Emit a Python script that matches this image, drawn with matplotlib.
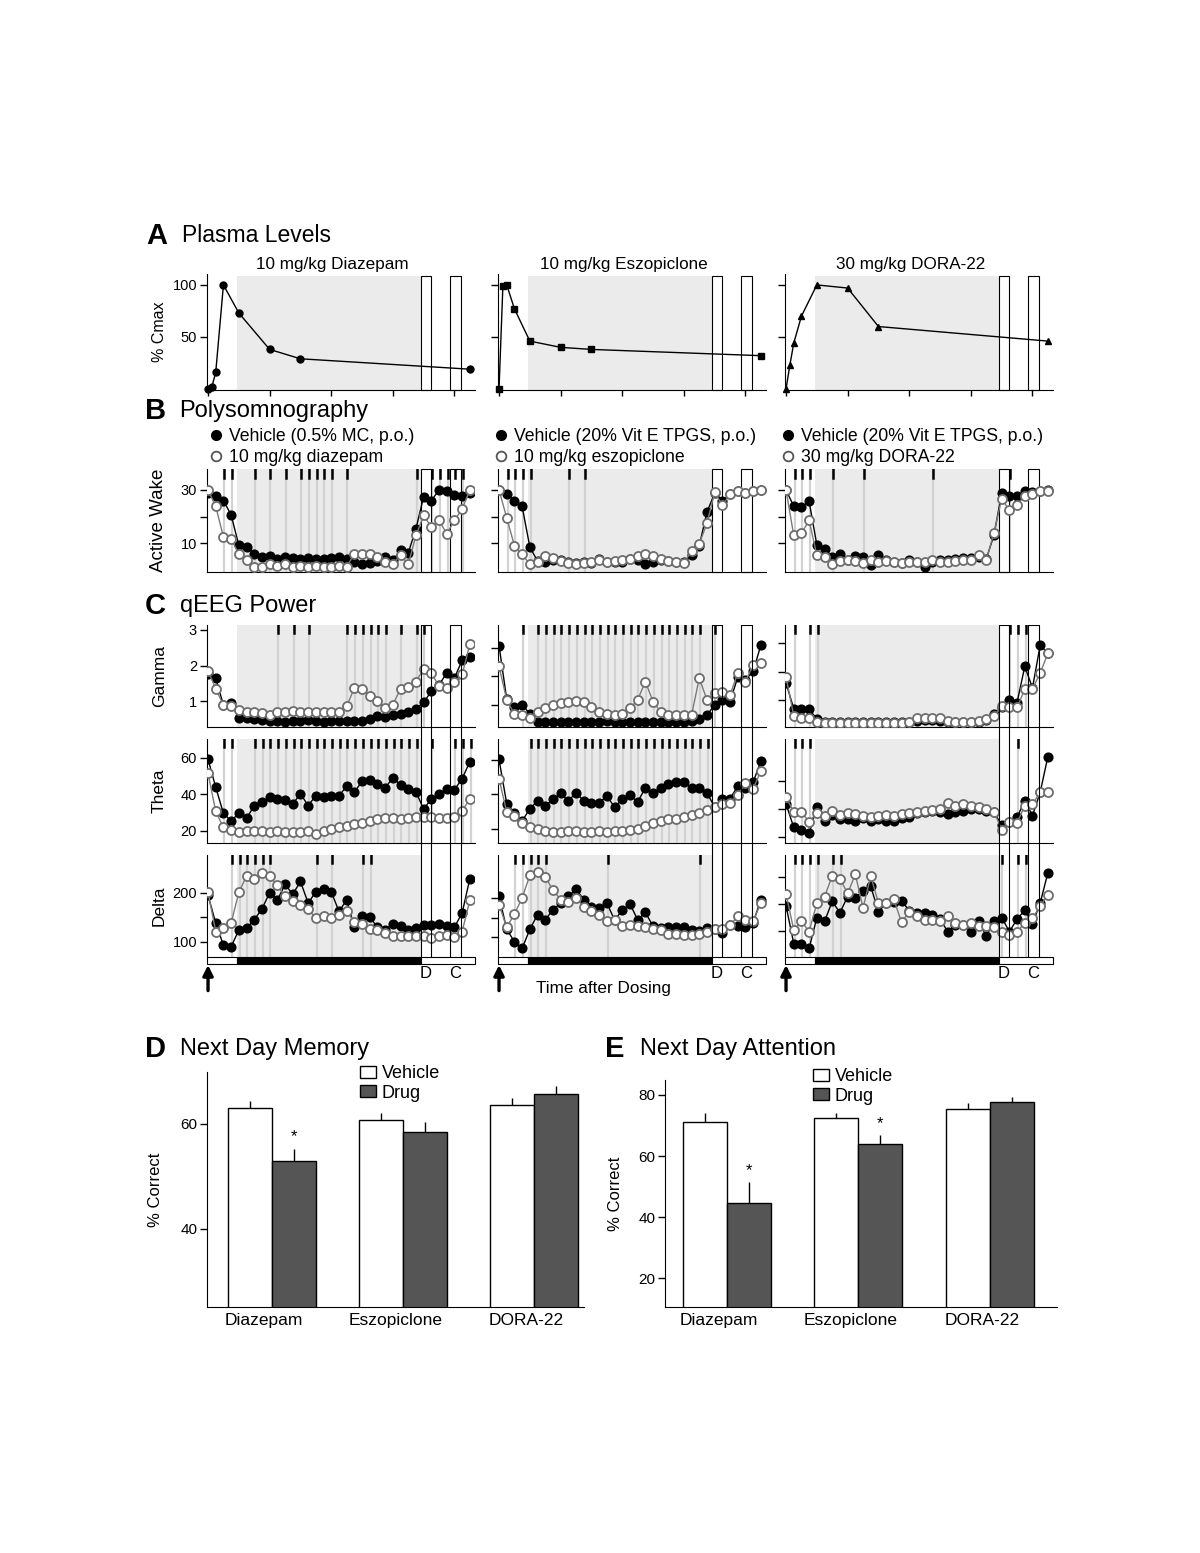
import matplotlib
matplotlib.use('Agg')
import matplotlib.pyplot as plt
from matplotlib.patches import Rectangle, Patch
from matplotlib.lines import Line2D

plt.rcParams['font.family'] = ['Liberation Sans', 'DejaVu Sans']

W, H = 1200, 1553

# ---------------- data ----------------
drugs = ['Diazepam', 'Eszopiclone', 'DORA-22']
pk_titles = ['10 mg/kg Diazepam', '10 mg/kg Eszopiclone', '30 mg/kg DORA-22']
veh_labels = ['Vehicle (0.5% MC, p.o.)', 'Vehicle (20% Vit E TPGS, p.o.)', 'Vehicle (20% Vit E TPGS, p.o.)']
drug_labels = ['10 mg/kg diazepam', '10 mg/kg eszopiclone', '30 mg/kg DORA-22']

# plasma levels (% Cmax)
pk_hours = [0, 0.25, 0.5, 1, 2, 4, 6, 17]
diaz_pk = [0, 2, 16, 100, 73, 38, 29, 19]
eszo_pk = [0, 99, 100, 77, 46, 40, 38, 32]
dora_pk = [0, 23, 44, 70, 100, 97, 60, 46]

# 30 min bins after dosing
hours = [i * 0.5 for i in range(35)]
dark = (1.85, 13.8)
d_box = (13.8, 14.5)
c_box = (15.7, 16.4)

# active wake
aw_veh_diaz = [29, 27.9, 26, 20.6, 9.1, 8.5, 6, 4.8, 5, 4.1, 4.8, 4.5, 3.9, 4.4, 3.9, 4.1, 4.5, 4.8,
               4.1, 2.9, 2.3, 2.5, 3.1, 4.8, 3.5, 7.3, 6.3, 15.4, 27.5, 26, 30, 29.8, 28.1, 27.9, 29]
aw_diaz = [30, 23.8, 12.3, 11.6, 5.8, 3.5, 1, 1, 2, 1.5, 2, 1, 1.5, 1, 1.5, 1, 1, 1.5,
           1, 6, 5.8, 5.8, 4.8, 2.9, 2.3, 5.4, 2, 12.9, 20.4, 16, 18.5, 13.5, 18.5, 22.9, 30]
aw_veh_eszo = [30, 28.3, 26, 23.8, 8.5, 3.2, 3, 3.5, 3.8, 2.8, 2.5, 3, 2.6, 4, 3, 2.8, 3, 4,
               3.5, 2, 3, 3.5, 3.2, 3, 2.8, 5.5, 9, 21.7, 28.8, 26, 28.3, 29.5, 29, 29.7, 30]
aw_eszo = [30, 19.5, 9, 5.7, 2, 2.8, 5, 4.4, 3.2, 2.6, 2, 2.6, 2.8, 3.5, 3, 3.2, 3.8, 4,
           5, 5.7, 5, 4, 3.2, 2.8, 2.6, 6.9, 9.8, 17.4, 29.1, 24.2, 28.3, 29.5, 29, 29.7, 30]
aw_veh_dora = [30, 23.9, 23.4, 25.7, 9.3, 7.6, 4.8, 6, 3.5, 5.1, 4.8, 1.7, 5.4, 3.5, 3, 2.5, 3.5, 2.8,
               1, 3, 3.5, 3.8, 4, 4.2, 4.5, 4.8, 4, 13, 28.8, 27.6, 27.6, 29.5, 29.3, 29.6, 30]
aw_dora = [30, 12.9, 13.7, 18.5, 5.4, 4.8, 2, 3.2, 3.5, 3.2, 2.6, 3.5, 3, 3.2, 3, 2.5, 2.8, 3,
           2.8, 3.5, 3, 2.8, 3.2, 3.5, 3.8, 5.4, 3.5, 13.9, 26.7, 22.4, 24.3, 27.9, 28.3, 29.5, 29.8]

# gamma power
ga_veh_diaz = [1.75, 1.65, 0.88, 0.95, 0.53, 0.53, 0.5, 0.48, 0.45, 0.45, 0.42, 0.45, 0.45, 0.48, 0.45,
               0.42, 0.45, 0.45, 0.45, 0.45, 0.45, 0.5, 0.58, 0.56, 0.6, 0.63, 0.7, 0.77, 0.97, 1.27,
               1.45, 1.8, 1.65, 2.15, 2.25]
ga_diaz = [1.85, 1.35, 0.88, 0.85, 0.75, 0.7, 0.68, 0.65, 0.62, 0.68, 0.7, 0.72, 0.7, 0.7, 0.68,
           0.68, 0.68, 0.7, 0.85, 1.37, 1.33, 1.15, 1.0, 0.8, 0.9, 1.35, 1.4, 1.55, 1.9, 1.78,
           1.42, 1.37, 1.53, 1.75, 2.6]
ga_veh_eszo = [3.08, 1.2, 0.92, 1.0, 0.7, 0.41, 0.42, 0.42, 0.4, 0.42, 0.4, 0.4, 0.42, 0.42, 0.43,
               0.42, 0.4, 0.4, 0.42, 0.4, 0.42, 0.42, 0.4, 0.42, 0.42, 0.45, 0.5, 0.65, 1.0, 1.18,
               1.12, 1.98, 1.88, 2.18, 3.1]
ga_eszo = [2.35, 1.18, 0.68, 0.65, 0.56, 0.76, 0.88, 1.0, 1.06, 1.12, 1.14, 1.12, 0.92, 0.76, 0.68,
           0.65, 0.68, 0.88, 1.18, 1.82, 1.12, 0.76, 0.65, 0.65, 0.65, 0.65, 1.94, 1.18, 1.41, 1.47,
           1.35, 2.12, 1.82, 2.41, 2.47]
ga_veh_dora = [1.6, 0.71, 0.69, 0.69, 0.35, 0.25, 0.23, 0.23, 0.23, 0.23, 0.23, 0.23, 0.25, 0.23, 0.23,
               0.23, 0.25, 0.28, 0.3, 0.3, 0.28, 0.25, 0.25, 0.23, 0.25, 0.25, 0.3, 0.52, 0.78, 1.0,
               0.92, 2.18, 1.43, 2.92, 2.63]
ga_dora = [1.81, 0.46, 0.37, 0.4, 0.23, 0.2, 0.2, 0.2, 0.2, 0.2, 0.2, 0.2, 0.2, 0.2, 0.22,
           0.22, 0.25, 0.38, 0.4, 0.4, 0.38, 0.28, 0.25, 0.25, 0.25, 0.28, 0.35, 0.46, 0.8, 0.78,
           0.75, 1.38, 1.4, 1.95, 2.63]

# theta power
th_veh_diaz = [59.3, 44, 29.6, 25.6, 29.6, 26.9, 33.9, 35.7, 38.5, 37.6, 36.7, 34.8, 40.4, 33.9, 39.4,
               38.5, 39.4, 39.4, 44.4, 41.3, 47.2, 48.1, 45.9, 43.7, 49.1, 45, 43.1, 41.3, 32, 37.6,
               40.4, 43.1, 42.6, 48.7, 58]
th_diaz = [51.5, 30.7, 21.9, 20.4, 19.5, 19.8, 19.8, 19.8, 19.5, 19.8, 19.5, 19.2, 19.5, 19.8, 18.5,
           19.8, 21, 22.2, 22.8, 23.7, 24.6, 25.6, 26.5, 26.9, 26.9, 26.7, 27, 27.4, 27.4, 27.4,
           26.9, 26.9, 27.8, 31.1, 37.6]
th_veh_eszo = [60.2, 34.6, 29.4, 24.6, 31.7, 36.2, 33.3, 37.1, 40.6, 36.2, 41, 36.2, 34.8, 35.2, 39,
               32.7, 37.1, 39.6, 35.6, 43.8, 41, 43.8, 46.2, 47.1, 47.1, 43.8, 43.8, 40.6, 32.9, 37.5,
               37.5, 44.8, 43.8, 47.1, 59.2]
th_eszo = [49, 29.8, 27.5, 23.3, 21.3, 19.8, 18.8, 18.5, 18.5, 18.8, 18.8, 18.5, 18.5, 18.8, 18.5,
           18.8, 19, 19.2, 20.2, 21.7, 23.3, 24.6, 25.6, 26, 27.1, 27.9, 29.4, 31, 32.7, 34.2,
           35.2, 39.4, 46.7, 43.3, 53.5]
th_veh_dora = [43.6, 26.9, 25, 22.6, 41.2, 31.7, 35.7, 32.9, 32.9, 31.7, 33.3, 31.7, 32.5, 31.5, 31.7,
               33.3, 34, 37, 38, 38.8, 37.5, 36.4, 38, 38.8, 40, 40, 38.8, 37.6, 28.6, 30.5,
               34, 46, 35.2, 51.9, 77.4]
th_dora = [48.3, 38.1, 37.6, 31, 36.9, 35.2, 38.8, 36, 37, 36.5, 35, 34, 35, 36, 35,
           36.5, 37, 37.5, 38.8, 39, 40, 44.3, 42.4, 43.6, 42.4, 41.2, 40, 38.1, 25.2, 31,
           30, 42.4, 43.6, 51.9, 51.9]

# delta power
de_veh_diaz = [195, 138, 93, 90, 124, 128, 145, 167, 200, 185, 217, 197, 223, 179, 202, 207, 202, 162,
               185, 130, 153, 150, 130, 124, 137, 132, 124, 128, 134, 134, 137, 132, 130, 159, 229]
de_diaz = [201, 121, 128, 138, 201, 234, 228, 241, 234, 215, 193, 183, 176, 167, 148, 152, 148, 155,
           162, 141, 137, 126, 124, 117, 112, 112, 112, 112, 112, 107, 112, 114, 109, 121, 185]
de_veh_eszo = [204, 120, 88, 71, 120, 157, 144, 170, 187, 204, 223, 196, 178, 174, 187, 144, 168, 185,
               144, 163, 128, 122, 125, 125, 125, 118, 116, 124, 120, 110, 131, 128, 125, 137, 196]
de_eszo = [183, 125, 159, 200, 258, 266, 254, 220, 196, 191, 200, 178, 166, 157, 140, 144, 128, 131,
           128, 127, 120, 118, 108, 108, 105, 105, 108, 114, 120, 120, 131, 153, 144, 142, 187]
de_veh_dora = [147, 77, 77, 68, 125, 118, 155, 134, 164, 161, 175, 183, 136, 152, 153, 156, 138, 134,
               133, 130, 122, 99, 111, 111, 99, 118, 91, 118, 125, 99, 122, 139, 113, 152, 208]
de_dora = [169, 102, 118, 99, 152, 164, 202, 197, 170, 205, 143, 202, 152, 152, 159, 116, 136, 128,
           121, 121, 118, 128, 115, 111, 115, 110, 110, 108, 99, 93, 99, 115, 124, 146, 167]

# significant bins (grey lines)
sig_aw = [[2, 3, 6, 8, 10, 12, 13, 14, 15, 16, 18, 27, 29, 30, 31, 32, 33], [1, 2, 3, 4, 9, 11],
          [1, 2, 3, 6, 10, 19, 29]]
sig_ga = [[9, 11, 13, 18, 19, 20, 21, 22, 23, 25, 27, 28],
          [3, 5, 6, 7, 8, 9, 10, 11, 12, 13, 14, 15, 16, 17, 18, 19, 20, 21, 22, 23, 24, 25, 26, 28],
          [1, 3, 4, 29, 30, 31]]
sig_th = [[2, 3, 6, 7, 8, 9, 10, 11, 12, 13, 14, 15, 16, 17, 18, 19, 20, 21, 22, 23, 24, 25, 26, 27,
           29, 32, 33, 34],
          [4, 5, 6, 7, 8, 9, 10, 11, 12, 13, 14, 15, 16, 17, 18, 19, 20, 21, 22, 23, 24, 25, 26, 27],
          [1, 2, 3, 30]]
sig_de = [[3, 4, 5, 6, 7, 8, 14, 16, 20, 21], [2, 3, 4, 5, 6, 14, 26], [1, 2, 3, 4, 6, 7, 28, 30, 31]]

# next day tests
mem_vehicle = [63.1, 60.8, 63.6]
mem_vehicle_err = [1.3, 1.2, 1.3]
mem_drug = [53.0, 58.4, 65.8]
mem_drug_err = [2.3, 1.9, 1.5]
att_vehicle = [71.0, 72.4, 75.4]
att_vehicle_err = [3.0, 1.6, 1.9]
att_drug = [44.7, 63.8, 77.6]
att_drug_err = [6.9, 3.1, 1.6]
mem_sig = [True, False, False]
att_sig = [True, True, False]

# ---------------- layout helpers ----------------
fig = plt.figure(figsize=(12, 15.53), dpi=100)


def box(x0, y0, x1, y1):
    return [x0 / W, 1 - y1 / H, (x1 - x0) / W, (y1 - y0) / H]


XLIM = (-0.08, 17.3)
col_left = [206.8, 497.8, 784.8]
col_w = 267.7
SHADE = '#ebebeb'
SIGC = '#d2d2d2'
LABX = -0.15


def clean(ax):
    for s in ('top', 'right'):
        ax.spines[s].set_visible(False)
    ax.tick_params(axis='y', direction='out', length=5, width=1, labelsize=10.5, pad=2)
    ax.set_xlim(XLIM)


def add_boxes(ax, ylim):
    for b in (d_box, c_box):
        ax.add_patch(Rectangle((b[0], ylim[0]), b[1] - b[0], ylim[1] - ylim[0], facecolor='white',
                               edgecolor='black', lw=0.8, zorder=1.5, clip_on=False))


def add_sig(ax, idx, ylim, tick_frac):
    for i in idx:
        x = hours[i] + 0.05
        ax.plot([x, x], ylim, color=SIGC, lw=1.6, zorder=1)
        top = ylim[1]
        ax.plot([x, x], [top, top - tick_frac * (ylim[1] - ylim[0])], color='black', lw=1.8, zorder=2)


def series(ax, veh, drug):
    ax.plot(hours, veh, '-', color='black', lw=1, marker='o', ms=6.3, mfc='black', mec='black', zorder=4)
    ax.plot(hours, drug, '-', color='#7a7a7a', lw=1, marker='o', ms=6.5, mfc='white', mec='#6e6e6e',
            mew=1.3, zorder=5)


# ---------------- A: plasma ----------------
pk_data = [diaz_pk, eszo_pk, dora_pk]
pk_marker = ['o', 's', '^']
for c in range(3):
    ax = fig.add_axes(box(col_left[c], 274, col_left[c] + col_w, 390))
    clean(ax)
    ylim = (-1, 110.5)
    ax.set_ylim(ylim)
    ax.axvspan(dark[0], dark[1], ymin=0, ymax=0.985, color=SHADE, lw=0, zorder=0)
    add_boxes(ax, (ylim[0], 108.5))
    ax.plot(pk_hours, pk_data[c], '-', color='black', lw=1, marker=pk_marker[c], ms=5, zorder=4,
            clip_on=False)
    ax.set_yticks([50, 100])
    ax.set_yticklabels(['50', '100'] if c == 0 else ['', ''])
    ax.set_xticks([0, 4, 8, 12, 16])
    ax.set_xticklabels([])
    ax.tick_params(axis='x', direction='out', length=4, width=1)
    if c == 0:
        ax.set_ylabel('% Cmax', fontsize=11.5)
        ax.yaxis.set_label_coords(LABX, 0.5)
    fig.text((col_left[c] + col_w / 2 - 8) / W, 1 - 264 / H, pk_titles[c], fontsize=12.3,
             ha='center', va='center')

# ---------------- B: active wake ----------------
aw_veh = [aw_veh_diaz, aw_veh_eszo, aw_veh_dora]
aw_drug = [aw_diaz, aw_eszo, aw_dora]
leg_x = [212, 497, 784]
for c in range(3):
    ax = fig.add_axes(box(col_left[c], 469, col_left[c] + col_w, 572))
    clean(ax)
    ylim = (-0.9, 37.9)
    ax.set_ylim(ylim)
    ax.axvspan(dark[0], dark[1], color=SHADE, lw=0, zorder=0)
    add_sig(ax, sig_aw[c], ylim, 0.09)
    add_boxes(ax, ylim)
    series(ax, aw_veh[c], aw_drug[c])
    ax.set_yticks([10, 20, 30])
    ax.set_yticklabels(['10', '', '30'] if c == 0 else ['', '', ''])
    ax.set_xticks([])
    if c == 0:
        ax.set_ylabel('Active Wake', fontsize=13.5)
        ax.yaxis.set_label_coords(LABX, 0.5)
    handles = [Line2D([], [], ls='none', marker='o', ms=7, mfc='black', mec='black'),
               Line2D([], [], ls='none', marker='o', ms=7, mfc='white', mec='#555555', mew=1.3)]
    ax.legend(handles, [veh_labels[c], drug_labels[c]], loc='upper left',
              bbox_to_anchor=(leg_x[c] / W, 1 - 428 / H), bbox_transform=fig.transFigure,
              frameon=False, fontsize=12.7, handlelength=0.5, handletextpad=0.45, borderpad=0,
              borderaxespad=0, labelspacing=0.22)

# ---------------- C: qEEG ----------------
rows = [
    ('Gamma', 625, 727, [ga_veh_diaz, ga_veh_eszo, ga_veh_dora], [ga_diaz, ga_eszo, ga_dora], sig_ga,
     [(0.27, 3.14), (0.23, 3.8), (0.07, 3.62)], [1, 2, 3], ['1', '2', '3']),
    ('Theta', 739, 843, [th_veh_diaz, th_veh_eszo, th_veh_dora], [th_diaz, th_eszo, th_dora], sig_th,
     [(13.4, 70.4), (11.9, 72), (15.7, 90)], [20, 40, 60], ['20', '40', '60']),
    ('Delta', 855, 957, [de_veh_diaz, de_veh_eszo, de_veh_dora], [de_diaz, de_eszo, de_dora], sig_de,
     [(69, 277), (49, 310), (52, 241)], [100, 150, 200], ['100', '', '200']),
]
for name, y0, y1, vehs, drgs, sigs, ylims, ticks, labels in rows:
    for c in range(3):
        ax = fig.add_axes(box(col_left[c], y0, col_left[c] + col_w, y1))
        clean(ax)
        ylim = ylims[c]
        ax.set_ylim(ylim)
        ax.axvspan(dark[0], dark[1], color=SHADE, lw=0, zorder=0)
        add_sig(ax, sigs[c], ylim, 0.08)
        series(ax, vehs[c], drgs[c])
        ax.set_yticks(ticks)
        ax.set_yticklabels(labels if c == 0 else [''] * len(ticks))
        ax.set_xticks([])
        if name == 'Delta':
            ax.spines['bottom'].set_visible(False)
        if c == 0:
            ax.set_ylabel(name, fontsize=12.5)
            ax.yaxis.set_label_coords(LABX, 0.5)

for c in range(3):
    # D / C boxes crossing the three qEEG panels
    ov = fig.add_axes(box(col_left[c], 625, col_left[c] + col_w, 964))
    ov.set_xlim(XLIM)
    ov.set_ylim(0, 1)
    ov.axis('off')
    ov.patch.set_alpha(0)
    for b in (d_box, c_box):
        ov.plot([b[0], b[0], b[1], b[1]], [0, 1, 1, 0], color='black', lw=0.8, zorder=6)

    # light / dark bar
    bar = fig.add_axes(box(col_left[c], 957, col_left[c] + col_w, 964))
    bar.set_xlim(XLIM)
    bar.set_ylim(0, 1)
    bar.axis('off')
    for xa, xb, fc in ((XLIM[0], dark[0], 'white'), (dark[0], dark[1], 'black'), (dark[1], XLIM[1], 'white')):
        bar.add_patch(Rectangle((xa, 0), xb - xa, 1, facecolor=fc, edgecolor='black', lw=0.8,
                                clip_on=False))
    bar.annotate('', xy=(0, -0.15), xytext=(0, -3.8), xycoords=('data', 'axes fraction'),
                 arrowprops=dict(arrowstyle='-|>,head_width=0.3,head_length=0.6', color='black',
                                 lw=2.4, shrinkA=0, shrinkB=0))
    bar.text(sum(d_box) / 2, -1.3, 'D', ha='center', va='center', fontsize=12,
             transform=bar.get_xaxis_transform())
    bar.text(sum(c_box) / 2, -1.3, 'C', ha='center', va='center', fontsize=12,
             transform=bar.get_xaxis_transform())

fig.text(603 / W, 1 - 988 / H, 'Time after Dosing', fontsize=12.3, ha='center', va='center')

# ---------------- panel letters ----------------
for letter, title, x, xt, y, fs in (('A', 'Plasma Levels', 146, 182, 236, 16.5),
                                    ('B', 'Polysomnography', 145, 179, 411, 17),
                                    ('C', 'qEEG Power', 145, 180, 606, 17)):
    fig.text(x / W, 1 - y / H, letter, fontsize=21, fontweight='bold', va='center')
    fig.text(xt / W, 1 - y / H, title, fontsize=fs, va='center')

# ---------------- D / E bar charts ----------------
narrow = ['Liberation Sans Narrow', 'Liberation Sans', 'DejaVu Sans']
bw = 0.335
panels = [
    ('D', 'Next Day Memory', box(207, 1072, 584, 1307), (-0.496, 2.38), (25.1, 69.9), [40, 60],
     mem_vehicle, mem_vehicle_err, mem_drug, mem_drug_err, mem_sig, 145, 180, 360, 1065, -0.117),
    ('E', 'Next Day Attention', box(665, 1080, 1057, 1307), (-0.47, 2.51), (10.6, 84.9), [20, 40, 60, 80],
     att_vehicle, att_vehicle_err, att_drug, att_drug_err, att_sig, 605, 640, 813, 1068, -0.107),
]
for (letter, title, rect, xl, yl, yt, veh, veh_e, drg, drg_e, sig, lx, tx, legx, legy, labx) in panels:
    ax = fig.add_axes(rect)
    x = list(range(len(drugs)))
    ax.bar(x, veh, width=-bw, align='edge', color='white', edgecolor='black', lw=1, zorder=2)
    ax.bar(x, drg, width=bw, align='edge', color='#555555', edgecolor='black', lw=1, zorder=2)
    ax.errorbar([v - bw / 2 for v in x], veh, yerr=[[0] * 3, veh_e], fmt='none', ecolor='black',
                elinewidth=1, capsize=0, zorder=1)
    ax.errorbar([v + bw / 2 for v in x], drg, yerr=[[0] * 3, drg_e], fmt='none', ecolor='black',
                elinewidth=1, capsize=0, zorder=1)
    for i, s in enumerate(sig):
        if s:
            ax.text(i + bw / 2, drg[i] + drg_e[i] + 0.35 * (yl[1] - yl[0]) / 20, '*', ha='center',
                    va='bottom', fontsize=12)
    ax.set_xlim(xl)
    ax.set_ylim(yl)
    ax.set_yticks(yt)
    ax.set_xticks([v - 0.06 for v in x])
    ax.set_xticklabels(drugs, family=narrow, fontsize=12.5)
    ax.tick_params(axis='x', length=0, pad=4)
    ax.tick_params(axis='y', direction='out', length=5, width=1, labelsize=11, pad=2)
    for lab in ax.get_yticklabels():
        lab.set_family(narrow)
    for s in ('top', 'right'):
        ax.spines[s].set_visible(False)
    ax.set_ylabel('% Correct', fontsize=12)
    ax.yaxis.set_label_coords(labx, 0.5)
    hd = [Patch(facecolor='white', edgecolor='black', lw=1),
          Patch(facecolor='#555555', edgecolor='black', lw=1)]
    ax.legend(hd, ['Vehicle', 'Drug'], loc='upper left', bbox_to_anchor=(legx / W, 1 - legy / H),
              bbox_transform=fig.transFigure, frameon=False, prop={'family': narrow, 'size': 13},
              handlelength=0.9, handleheight=0.65, handletextpad=0.3, borderpad=0, borderaxespad=0,
              labelspacing=0.15)
    fig.text(lx / W, 1 - 1049 / H, letter, fontsize=21, fontweight='bold', va='center')
    fig.text(tx / W, 1 - 1049 / H, title, fontsize=17, va='center', family=narrow)

fig.savefig('out.png', dpi=100)
